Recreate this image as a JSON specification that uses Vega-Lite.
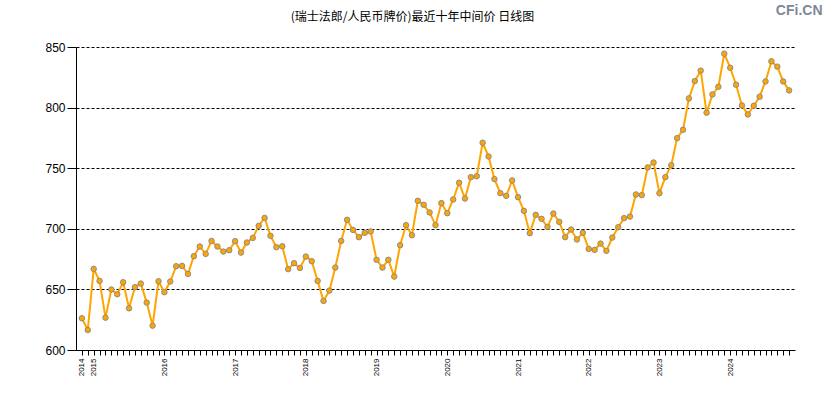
{
  "$schema": "https://vega.github.io/schema/vega-lite/v6.json",
  "width": 719,
  "height": 303,
  "autosize": {"type": "none"},
  "padding": {"left": 76, "top": 47, "right": 30, "bottom": 50},
  "background": "white",
  "title": {
    "text": "(瑞士法郎/人民币牌价)最近十年中间价 日线图",
    "font": "Noto Sans CJK SC",
    "fontSize": 12,
    "fontWeight": "normal",
    "color": "black",
    "anchor": "middle",
    "dx": -23,
    "offset": -21
  },
  "data": {
    "values": [
      {"d": "2014-11", "v": 626.2}, {"d": "2014-12", "v": 616.5},
      {"d": "2015-01", "v": 666.9}, {"d": "2015-02", "v": 657.0}, {"d": "2015-03", "v": 626.7}, {"d": "2015-04", "v": 649.9},
      {"d": "2015-05", "v": 646.0}, {"d": "2015-06", "v": 655.9}, {"d": "2015-07", "v": 634.4}, {"d": "2015-08", "v": 651.8},
      {"d": "2015-09", "v": 654.8}, {"d": "2015-10", "v": 639.1}, {"d": "2015-11", "v": 620.1}, {"d": "2015-12", "v": 656.7},
      {"d": "2016-01", "v": 647.7}, {"d": "2016-02", "v": 656.5}, {"d": "2016-03", "v": 669.1}, {"d": "2016-04", "v": 669.4},
      {"d": "2016-05", "v": 662.8}, {"d": "2016-06", "v": 677.4}, {"d": "2016-07", "v": 685.4}, {"d": "2016-08", "v": 679.3},
      {"d": "2016-09", "v": 690.0}, {"d": "2016-10", "v": 685.4}, {"d": "2016-11", "v": 681.2}, {"d": "2016-12", "v": 682.3},
      {"d": "2017-01", "v": 689.8}, {"d": "2017-02", "v": 680.4}, {"d": "2017-03", "v": 688.7}, {"d": "2017-04", "v": 692.5},
      {"d": "2017-05", "v": 702.4}, {"d": "2017-06", "v": 709.0}, {"d": "2017-07", "v": 694.2}, {"d": "2017-08", "v": 684.8},
      {"d": "2017-09", "v": 685.6}, {"d": "2017-10", "v": 666.7}, {"d": "2017-11", "v": 671.6}, {"d": "2017-12", "v": 667.7},
      {"d": "2018-01", "v": 677.1}, {"d": "2018-02", "v": 673.3}, {"d": "2018-03", "v": 657.0}, {"d": "2018-04", "v": 640.5},
      {"d": "2018-05", "v": 649.0}, {"d": "2018-06", "v": 668.0}, {"d": "2018-07", "v": 690.0}, {"d": "2018-08", "v": 707.4},
      {"d": "2018-09", "v": 699.1}, {"d": "2018-10", "v": 693.1}, {"d": "2018-11", "v": 696.7}, {"d": "2018-12", "v": 697.8},
      {"d": "2019-01", "v": 674.4}, {"d": "2019-02", "v": 668.0}, {"d": "2019-03", "v": 674.4}, {"d": "2019-04", "v": 660.6},
      {"d": "2019-05", "v": 686.5}, {"d": "2019-06", "v": 703.0}, {"d": "2019-07", "v": 694.7}, {"d": "2019-08", "v": 723.1},
      {"d": "2019-09", "v": 719.8}, {"d": "2019-10", "v": 713.5}, {"d": "2019-11", "v": 703.0}, {"d": "2019-12", "v": 721.2},
      {"d": "2020-01", "v": 712.9}, {"d": "2020-02", "v": 724.2}, {"d": "2020-03", "v": 738.0}, {"d": "2020-04", "v": 725.0},
      {"d": "2020-05", "v": 742.6}, {"d": "2020-06", "v": 743.4}, {"d": "2020-07", "v": 771.0}, {"d": "2020-08", "v": 759.7},
      {"d": "2020-09", "v": 741.0}, {"d": "2020-10", "v": 729.4}, {"d": "2020-11", "v": 727.2}, {"d": "2020-12", "v": 739.9},
      {"d": "2021-01", "v": 726.1}, {"d": "2021-02", "v": 714.8}, {"d": "2021-03", "v": 696.4}, {"d": "2021-04", "v": 711.5},
      {"d": "2021-05", "v": 708.2}, {"d": "2021-06", "v": 701.6}, {"d": "2021-07", "v": 712.6}, {"d": "2021-08", "v": 705.7},
      {"d": "2021-09", "v": 693.1}, {"d": "2021-10", "v": 699.4}, {"d": "2021-11", "v": 691.2}, {"d": "2021-12", "v": 696.7},
      {"d": "2022-01", "v": 683.4}, {"d": "2022-02", "v": 682.6}, {"d": "2022-03", "v": 687.8}, {"d": "2022-04", "v": 681.8},
      {"d": "2022-05", "v": 692.8}, {"d": "2022-06", "v": 701.3}, {"d": "2022-07", "v": 708.8}, {"d": "2022-08", "v": 710.1},
      {"d": "2022-09", "v": 728.3}, {"d": "2022-10", "v": 727.8}, {"d": "2022-11", "v": 750.6}, {"d": "2022-12", "v": 754.7},
      {"d": "2023-01", "v": 729.4}, {"d": "2023-02", "v": 742.6}, {"d": "2023-03", "v": 752.5}, {"d": "2023-04", "v": 774.8},
      {"d": "2023-05", "v": 781.7}, {"d": "2023-06", "v": 807.6}, {"d": "2023-07", "v": 821.9}, {"d": "2023-08", "v": 830.5},
      {"d": "2023-09", "v": 795.8}, {"d": "2023-10", "v": 810.9}, {"d": "2023-11", "v": 817.2}, {"d": "2023-12", "v": 844.5},
      {"d": "2024-01", "v": 832.9}, {"d": "2024-02", "v": 818.9}, {"d": "2024-03", "v": 801.8}, {"d": "2024-04", "v": 794.4},
      {"d": "2024-05", "v": 801.5}, {"d": "2024-06", "v": 809.0}, {"d": "2024-07", "v": 821.6}, {"d": "2024-08", "v": 838.2},
      {"d": "2024-09", "v": 833.8}, {"d": "2024-10", "v": 821.6}, {"d": "2024-11", "v": 814.2}
    ]
  },
  "encoding": {
    "x": {
      "field": "d",
      "type": "ordinal",
      "sort": null,
      "scale": {"type": "point", "padding": 1},
      "axis": {
        "title": null,
        "grid": false,
        "labelAngle": -90,
        "labelFontSize": 8,
        "labelFont": "Liberation Sans",
        "labelColor": "black",
        "labelPadding": 3,
        "labelOverlap": false,
        "labelExpr": "slice(datum.value, 5) == '01' || datum.value == '2014-11' ? slice(datum.value, 0, 4) : ''",
        "tickSize": 5,
        "tickColor": "black",
        "domainColor": "black"
      }
    },
    "y": {
      "field": "v",
      "type": "quantitative",
      "scale": {"domain": [600, 850], "nice": false, "zero": false},
      "axis": {
        "values": [600, 650, 700, 750, 800, 850],
        "grid": true,
        "gridColor": "black",
        "gridDash": [3, 2],
        "gridOpacity": 1,
        "domainColor": "black",
        "tickColor": "black",
        "tickSize": 9,
        "labelPadding": 2,
        "labelFont": "Liberation Sans",
        "labelFontSize": 12,
        "labelColor": "black",
        "title": "CFi.CN",
        "titleAngle": 0,
        "titleX": 746,
        "titleY": -37,
        "titleAlign": "right",
        "titleBaseline": "middle",
        "titleFont": "Liberation Sans",
        "titleFontSize": 14,
        "titleFontWeight": "bold",
        "titleColor": "#7d8894"
      }
    }
  },
  "layer": [
    {"mark": {"type": "line", "color": "#FFA500", "strokeWidth": 2}},
    {"mark": {"type": "point", "filled": true, "fill": "#FFA500", "stroke": "#8c8c8c", "strokeWidth": 1, "size": 30, "opacity": 1}}
  ],
  "config": {"view": {"stroke": null}}
}
